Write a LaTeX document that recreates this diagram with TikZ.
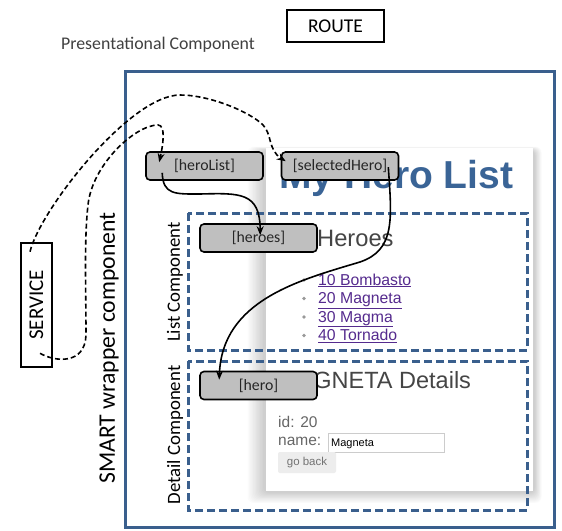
\documentclass[tikz,border=0pt]{standalone}
\usepackage{fontspec}
\setmainfont{Carlito}
\newfontfamily\arialf{Liberation Sans}
\usetikzlibrary{arrows.meta,calc}
\definecolor{frameblue}{HTML}{3A5F8D}
\definecolor{titleblue}{HTML}{3A6496}
\definecolor{linkpurple}{HTML}{552B8E}
\definecolor{boxgray}{HTML}{BFBFBF}
\newcommand\fsz[1]{\fontsize{#1}{#1}\selectfont}
\tikzset{
  bindbox/.style={draw=black, line width=1.6pt, fill=boxgray, rounded corners=4pt,
    minimum width=117pt, minimum height=28pt, inner sep=0pt, font=\fsz{15.8}, text=black!85},
  thickbox/.style={draw=black, line width=2.6pt, inner sep=0pt, fill=white},
  dashframe/.style={draw=frameblue, line width=3pt, dash pattern=on 8pt off 4pt},
  flowsolid/.style={line width=1.6pt, -{Stealth[length=9pt,width=7pt]}},
  flowdash/.style={line width=1.6pt, dash pattern=on 5pt off 3pt, -{Stealth[length=9pt,width=7pt]}},
  sidelabel/.style={rotate=90, inner sep=0pt},
  webtext/.style={inner sep=0pt, anchor=base west, font=\arialf},
  linkitem/.style={webtext, font=\arialf\fsz{15.8}, text=linkpurple}
}
\begin{document}
\begin{tikzpicture}[x=1pt,y=-1pt]
\useasboundingbox (0,0) rectangle (562,530);
\fill[white] (0,0) rectangle (562,530);

% outer SMART wrapper frame
\draw[frameblue, line width=3pt] (125,71) rectangle (554,527);

% screenshot panel with soft shadow
\foreach \i in {0,...,11}
  \fill[black, opacity=0.016, rounded corners=6pt] (263-\i*1.4, 150-\i*0.3) rectangle (535+\i*0.6, 493+\i*0.9);
\fill[white] (266,148) rectangle (533,491);

\node[webtext, font=\arialf\bfseries\fsz{39}, text=titleblue] (title) at (279,188) {My Hero List};
\node[webtext, font=\arialf\fsz{23.7}, text=black!73] (heroesh) at (317,246) {Heroes};
\foreach \t/\yy [count=\k] in {10 Bombasto/285, 20 Magneta/303.5, 30 Magma/322, 40 Tornado/340.5}{
  \fill[black!40] (304,\yy-5) circle (1.8pt);
  \node[linkitem] (item\k) at (318,\yy) {\underline{\t}};
}
\node[webtext, font=\arialf\fsz{23.5}, text=black!73] (details) at (278,388) {MAGNETA Details};
\node[webtext, font=\arialf\fsz{15.5}, text=black!60] (idl) at (278,427) {id: 20};
\node[webtext, font=\arialf\fsz{15.5}, text=black!60] (namel) at (278,445) {name:};
\draw[black!20, fill=white, line width=0.8pt] (328,433) rectangle (444,452);
\node[webtext, font=\arialf\fsz{11}, text=black] (namev) at (331,446.5) {Magneta};
\fill[black!7, rounded corners=2pt] (278,452) rectangle (336,473);
\node[font=\arialf\fsz{11.5}, text=black!55, inner sep=0pt] (goback) at (307,463) {go back};

% dashed component frames
\draw[dashframe] (188,213) rectangle (527,350);
\draw[dashframe] (188,361) rectangle (527,510);

% side labels
\node[sidelabel, font=\fsz{23.7}] (smart) at (109,348) {SMART wrapper component};
\node[sidelabel, font=\fsz{18.8}] (listc) at (175,282) {List Component};
\node[sidelabel, font=\fsz{18.8}] (detc) at (175,435) {Detail Component};

% top texts
\node[thickbox, minimum width=97pt, minimum height=32pt, font=\fsz{19.5}] (route) at (335.5,26) {ROUTE};
\node[inner sep=0pt, anchor=west, font=\fsz{17.8}, text=black!75] (pres) at (61,45) {Presentational Component};

% binding boxes
\node[bindbox] (herolist) at (204.5,166) {[heroList]};
\node[bindbox] (selhero) at (340,166) {[selectedHero]};
\node[bindbox] (heroes) at (258.5,238) {[heroes]};
\node[bindbox] (hero) at (258.5,385.5) {[hero]};

% service (rotated: east = top, west = bottom)
\node[thickbox, sidelabel, minimum width=124pt, minimum height=31pt, font=\fsz{21}] (service) at (36.5,305) {SERVICE};

% connectors
\draw[flowdash] ($(service.east)+(-6.5,10)$) .. controls (40,210) and (130,95) .. (180,95)
  .. controls (210,95) and (250,112) .. (263,125)
  .. controls (272,134) and (268,150) .. ($(selhero.north west)+(5,10)$);
\draw[flowdash] ($(service.west)+(3.5,-15)$) .. controls (55,362) and (85,365) .. (86,335)
  .. controls (86,290) and (84,240) .. (88,205)
  .. controls (92,165) and (135,125) .. (158,125)
  .. controls (166,125) and (163,145) .. ($(herolist.north west)+(14,11)$);
\draw[flowsolid] ($(herolist.south west)+(17,-8)$) .. controls (163,195) and (175,194) .. (200,194)
  .. controls (240,193) and (260,192) .. ($(heroes.north west)+(61,12)$);
\draw[flowsolid] ($(selhero.north east)+(-11,16)$) .. controls (392,220) and (395,250) .. (360,262)
  .. controls (300,280) and (222,300) .. ($(hero.north west)+(20,9)$);
\end{tikzpicture}
\end{document}
